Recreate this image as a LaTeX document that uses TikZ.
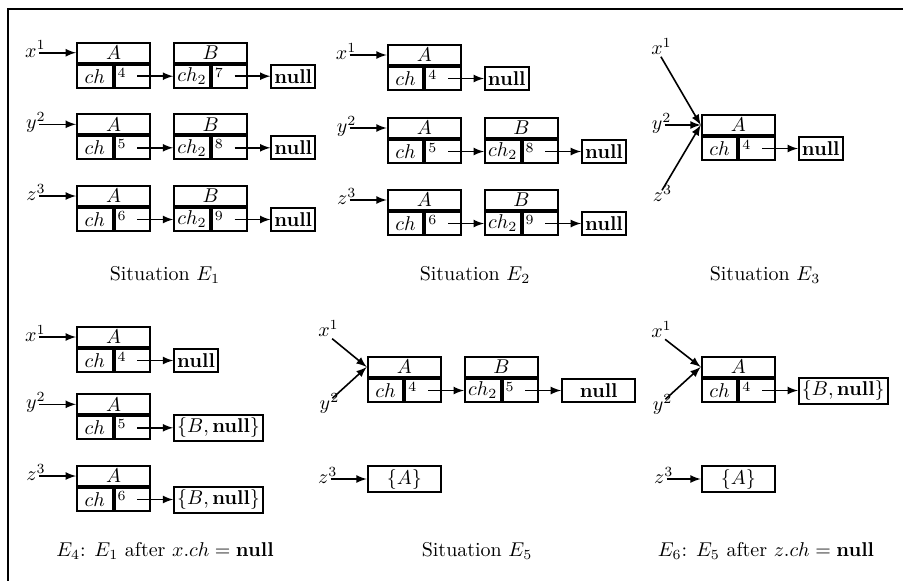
\documentclass[tikz,border=0pt]{standalone}
\usepackage{amsmath}
\usetikzlibrary{positioning}
\tikzset{cellbox/.style={draw, line width=1pt, inner sep=1.5pt, minimum height=11.5pt},
  topbox/.style={cellbox, minimum width=36.6pt, minimum height=10pt},
  halfbox/.style={cellbox, minimum width=17.8pt},
  valbox/.style={halfbox, text width=14.8pt, align=left},
  endbox/.style={cellbox},
  widebox/.style={cellbox, minimum width=36.6pt},
  ptr/.style={-latex, thick},
  link/.style={ptr, shorten <=2.5pt},
  lbl/.style={inner sep=1pt, text height=1ex, text depth=0pt}}
% one heap object: name, north west corner, class, field, value
\newcommand{\heapobj}[5]{%
  \node[topbox, anchor=north west] (#1t) at (#2) {$#3$};
  \node[halfbox, anchor=north west] (#1l) at (#1t.south west) {$#4$};
  \node[valbox, anchor=north west] (#1v) at (#1l.north east) {$^{#5}$};}

\begin{document}
\begin{tikzpicture}[x=0.5pt, y=-0.5pt]
    \useasboundingbox (0,0) rectangle (903,580);
    \draw[thick] (8,600) -- (8,9) -- (920,9);
    % situation E1
    \heapobj{e1xA}{76,41.7}{A}{ch}{4}
    \heapobj{e1xB}{[xshift=11pt]e1xAt.north east}{B}{ch_2}{7}
    \node[endbox, right=11pt of e1xBv] (e1xN) {\textbf{null}};
    \heapobj{e1yA}{76,113.3}{A}{ch}{5}
    \heapobj{e1yB}{[xshift=11pt]e1yAt.north east}{B}{ch_2}{8}
    \node[endbox, right=11pt of e1yBv] (e1yN) {\textbf{null}};
    \heapobj{e1zA}{76,185}{A}{ch}{6}
    \heapobj{e1zB}{[xshift=11pt]e1zAt.north east}{B}{ch_2}{9}
    \node[endbox, right=11pt of e1zBv] (e1zN) {\textbf{null}};
    \node[lbl, left=18.5pt of e1xAt] (e1x) {$x\rlap{$^1$}$};
    \node[lbl, left=18.5pt of e1yAt] (e1y) {$y\rlap{$^2$}$};
    \node[lbl, left=18.5pt of e1zAt] (e1z) {$z\rlap{$^3$}$};
    \draw[ptr] (e1x) -- (e1xAt.west);
    \draw[ptr] (e1y) -- (e1yAt.west);
    \draw[ptr] (e1z) -- (e1zAt.west);
    \draw[link] (e1xAv.center) -- (e1xBl.west);
    \draw[link] (e1xBv.center) -- (e1xN);
    \draw[link] (e1yAv.center) -- (e1yBl.west);
    \draw[link] (e1yBv.center) -- (e1yN);
    \draw[link] (e1zAv.center) -- (e1zBl.west);
    \draw[link] (e1zBv.center) -- (e1zN);
    \node (cap1) at (165,275) {Situation $E_1$};
    % situation E2
    \heapobj{e2xA}{386.7,44}{A}{ch}{4}
    \node[endbox, right=11pt of e2xAv] (e2xN) {\textbf{null}};
    \heapobj{e2yA}{386.7,117}{A}{ch}{5}
    \heapobj{e2yB}{[xshift=11pt]e2yAt.north east}{B}{ch_2}{8}
    \node[endbox, right=11pt of e2yBv] (e2yN) {\textbf{null}};
    \heapobj{e2zA}{386.7,189}{A}{ch}{6}
    \heapobj{e2zB}{[xshift=11pt]e2zAt.north east}{B}{ch_2}{9}
    \node[endbox, right=11pt of e2zBv] (e2zN) {\textbf{null}};
    \node[lbl, left=18.5pt of e2xAt] (e2x) {$x\rlap{$^1$}$};
    \node[lbl, left=18.5pt of e2yAt] (e2y) {$y\rlap{$^2$}$};
    \node[lbl, left=18.5pt of e2zAt] (e2z) {$z\rlap{$^3$}$};
    \draw[ptr] (e2x) -- (e2xAt.west);
    \draw[ptr] (e2y) -- (e2yAt.west);
    \draw[ptr] (e2z) -- (e2zAt.west);
    \draw[link] (e2xAv.center) -- (e2xN);
    \draw[link] (e2yAv.center) -- (e2yBl.west);
    \draw[link] (e2yBv.center) -- (e2yN);
    \draw[link] (e2zAv.center) -- (e2zBl.west);
    \draw[link] (e2zBv.center) -- (e2zN);
    \node (cap2) at (475,275) {Situation $E_2$};
    % situation E3
    \heapobj{e3A}{700.7,114}{A}{ch}{4}
    \node[endbox, right=11pt of e3Av] (e3N) {\textbf{null}};
    \node[lbl] (e3x) at (657,50) {$x\rlap{$^1$}$};
    \node[lbl, left=18pt of e3At] (e3y) {$y\rlap{$^2$}$};
    \node[lbl] (e3z) at (658,197) {$z\rlap{$^3$}$};
    \draw[ptr] (e3x) -- (e3At.west);
    \draw[ptr] (e3y) -- (e3At.west);
    \draw[ptr] (e3z) -- (e3At.west);
    \draw[link] (e3Av.center) -- (e3N);
    \node (cap3) at (765,275) {Situation $E_3$};
    % situation E4
    \heapobj{e4xA}{76,326}{A}{ch}{4}
    \node[endbox, right=11pt of e4xAv] (e4xN) {\textbf{null}};
    \heapobj{e4yA}{76,393.3}{A}{ch}{5}
    \node[endbox, right=11pt of e4yAv] (e4yS) {$\{B,\mathbf{null}\}$};
    \heapobj{e4zA}{76,465}{A}{ch}{6}
    \node[endbox, right=11pt of e4zAv] (e4zS) {$\{B,\mathbf{null}\}$};
    \node[lbl, left=18.5pt of e4xAt] (e4x) {$x\rlap{$^1$}$};
    \node[lbl, left=18.5pt of e4yAt] (e4y) {$y\rlap{$^2$}$};
    \node[lbl, left=18.5pt of e4zAt] (e4z) {$z\rlap{$^3$}$};
    \draw[ptr] (e4x) -- (e4xAt.west);
    \draw[ptr] (e4y) -- (e4yAt.west);
    \draw[ptr] (e4z) -- (e4zAt.west);
    \draw[link] (e4xAv.center) -- (e4xN);
    \draw[link] (e4yAv.center) -- (e4yS);
    \draw[link] (e4zAv.center) -- (e4zS);
    \node (cap4) at (165,551) {$E_4$: $E_1$ after $x.ch = \mathbf{null}$};
    % situation E5
    \heapobj{e5A}{366.7,356}{A}{ch}{4}
    \heapobj{e5B}{[xshift=11pt]e5At.north east}{B}{ch_2}{5}
    \node[widebox, right=11pt of e5Bv] (e5N) {\textbf{null}};
    \node[widebox, anchor=north west] (e5S) at (366.7,465) {$\{A\}$};
    \node[lbl] (e5x) at (324,332) {$x\rlap{$^1$}$};
    \node[lbl] (e5y) at (325,405) {$y\rlap{$^2$}$};
    \node[lbl, left=18pt of e5S] (e5z) {$z\rlap{$^3$}$};
    \draw[ptr] (e5x) -- (e5At.west);
    \draw[ptr] (e5y) -- (e5At.west);
    \draw[ptr] (e5z) -- (e5S);
    \draw[link] (e5Av.center) -- (e5Bl.west);
    \draw[link] (e5Bv.center) -- (e5N);
    \node (cap5) at (477,551) {Situation $E_5$};
    % situation E6
    \heapobj{e6A}{700.7,356}{A}{ch}{4}
    \node[endbox, right=11pt of e6Av] (e6N) {$\{B,\mathbf{null}\}$};
    \node[widebox, anchor=north west] (e6S) at (700.7,465) {$\{A\}$};
    \node[lbl] (e6x) at (657,333) {$x\rlap{$^1$}$};
    \node[lbl] (e6y) at (658,406) {$y\rlap{$^2$}$};
    \node[lbl, left=17pt of e6S] (e6z) {$z\rlap{$^3$}$};
    \draw[ptr] (e6x) -- (e6At.west);
    \draw[ptr] (e6y) -- (e6At.west);
    \draw[ptr] (e6z) -- (e6S);
    \draw[link] (e6Av.center) -- (e6N);
    \node (cap6) at (766,551) {$E_6$: $E_5$ after $z.ch = \mathbf{null}$};
\end{tikzpicture}
\end{document}
